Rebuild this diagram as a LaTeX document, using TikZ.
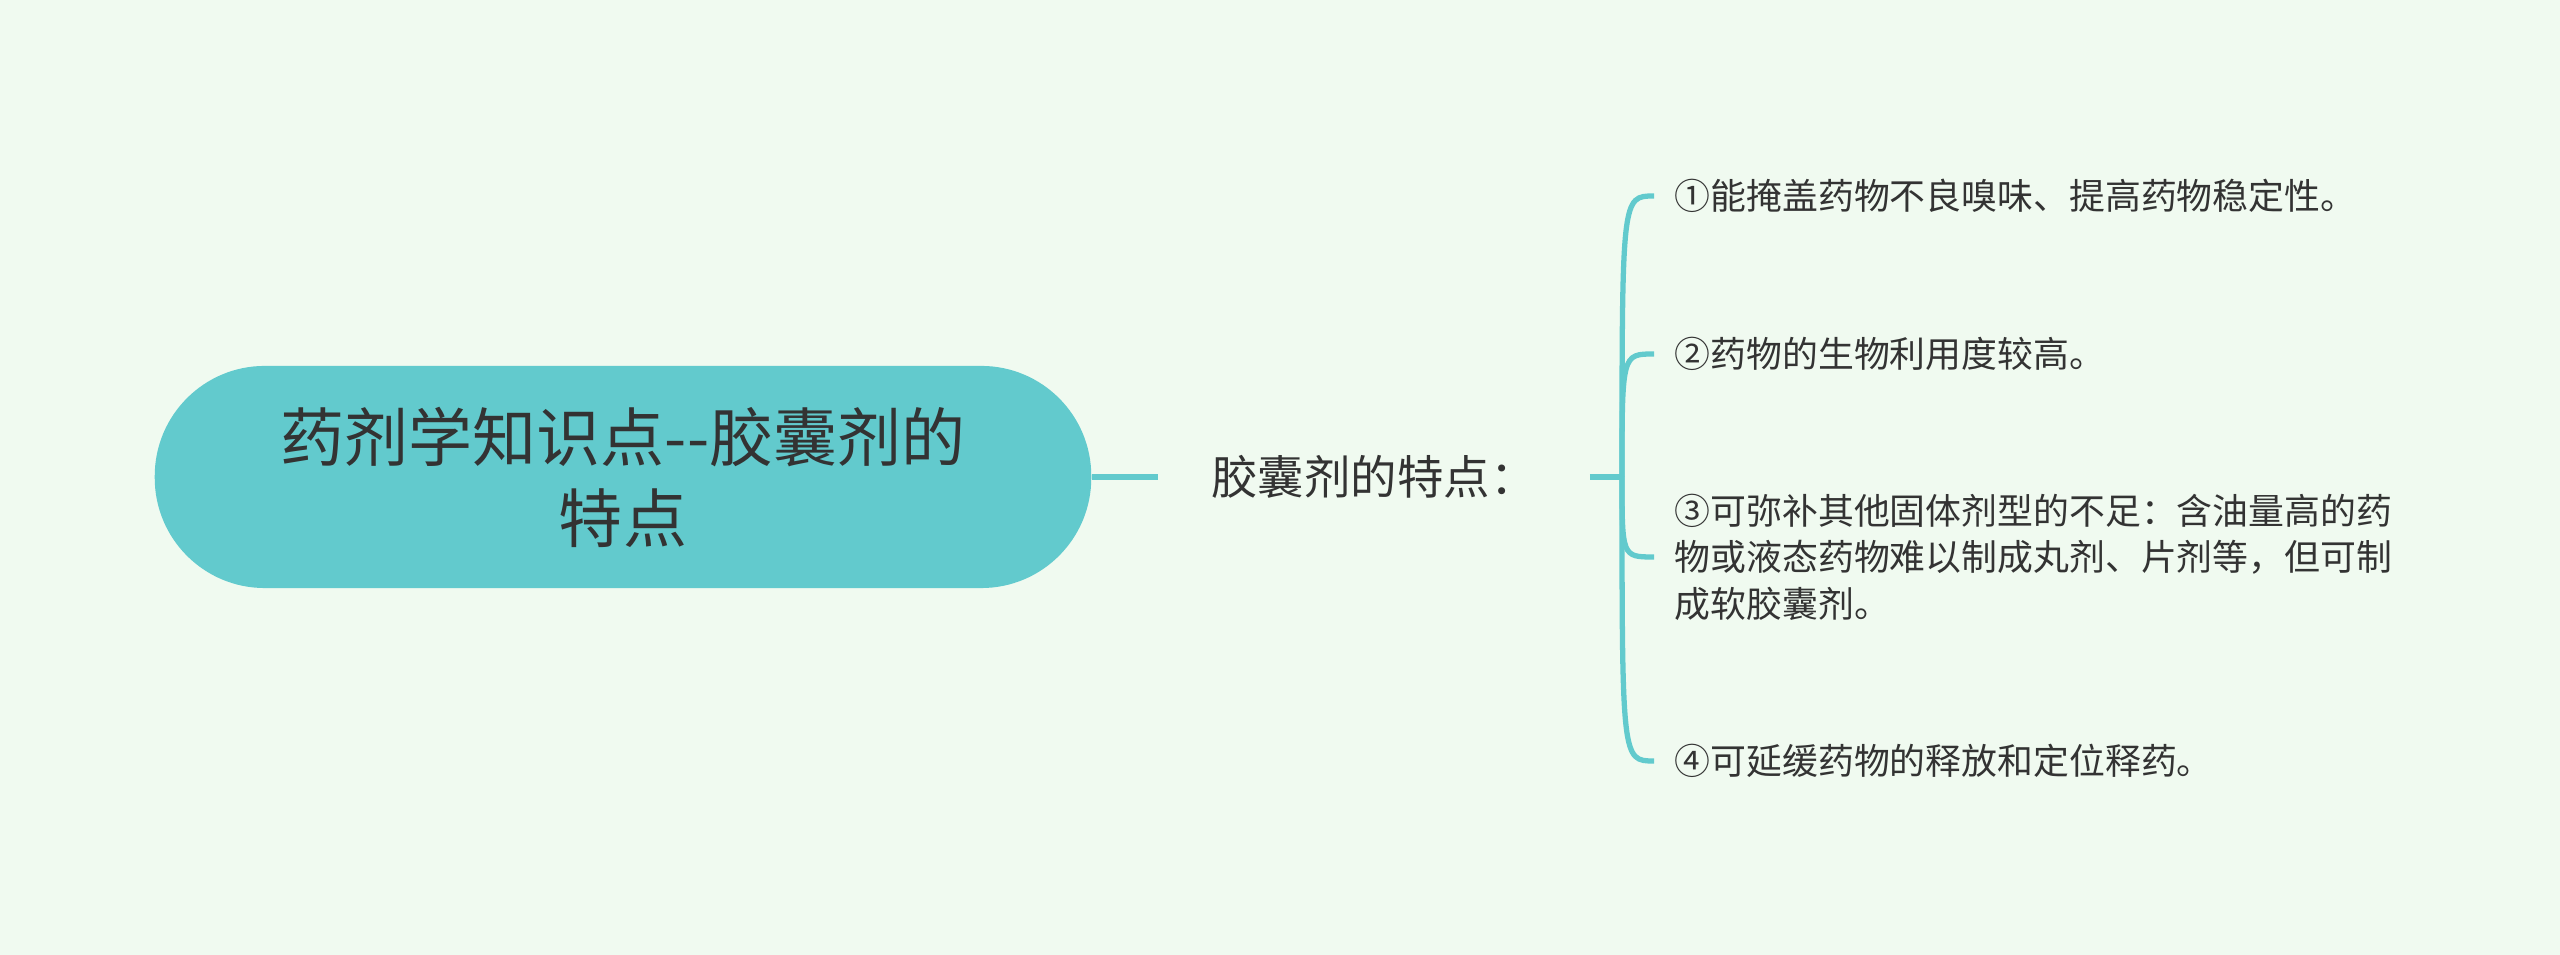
\documentclass[tikz,border=0pt]{standalone}
\usepackage{fontspec}
\setmainfont{Noto Sans CJK SC}
\usetikzlibrary{positioning, calc}

\definecolor{bgmint}{HTML}{F0FAF0}
\definecolor{capteal}{HTML}{62CACD}
\definecolor{inkgray}{HTML}{333333}

\begin{document}
\begin{tikzpicture}[
    x=0.01cm, y=0.01cm,
    root/.style={fill=capteal, rounded corners=1.1cm, inner sep=0pt,
                 minimum width=9.36cm, minimum height=2.22cm, align=center,
                 text=inkgray, font=\fontsize{18.2}{23}\selectfont},
    topic/.style={inner sep=0pt, minimum width=4.3cm, minimum height=0.8cm,
                  text=inkgray, font=\fontsize{13.2}{15}\selectfont},
    leaf/.style={anchor=west, inner xsep=0.2cm, inner ysep=2pt, align=left,
                 text=inkgray, font=\fontsize{10.2}{13.2}\selectfont},
    link/.style={draw=capteal, line width=1.7pt},
    branch/.style={draw=capteal, line width=1.5pt},
]

    %==================== canvas ====================
    \fill[bgmint] (0,0) rectangle (2560,955);
    \useasboundingbox (0,0) rectangle (2560,955);

    %==================== ROOT ====================
    \node[root] (caps) at (623,478) {药剂学知识点-{}-胶囊剂的\\特点};

    %==================== TOPIC ====================
    \node[topic] (feat) at (1374,478) {胶囊剂的特点：};
    \draw[link] (caps.east) -- (feat.west);

    \coordinate (hub) at (1622,478);
    \draw[link] (feat.east) -- (hub);

    %==================== LEAVES ====================
    \node[leaf] (f1) at (1654,759) {①能掩盖药物不良嗅味、提高药物稳定性。};
    \node[leaf] (f2) at (1654,601) {②药物的生物利用度较高。};
    \node[leaf] (f3) at (1654,398)
        {③可弥补其他固体剂型的不足：含油量高的药\\
         物或液态药物难以制成丸剂、片剂等，但可制\\
         成软胶囊剂。};
    \node[leaf] (f4) at (1654,194) {④可延缓药物的释放和定位释药。};

    % curved branches hub -> leaves
    \draw[branch] (hub) .. controls (hub |- f1.west) .. (f1.west);
    \draw[branch] (hub) .. controls (hub |- f2.west) .. (f2.west);
    \draw[branch] (hub) .. controls (hub |- f3.west) .. (f3.west);
    \draw[branch] (hub) .. controls (hub |- f4.west) .. (f4.west);

\end{tikzpicture}
\end{document}
